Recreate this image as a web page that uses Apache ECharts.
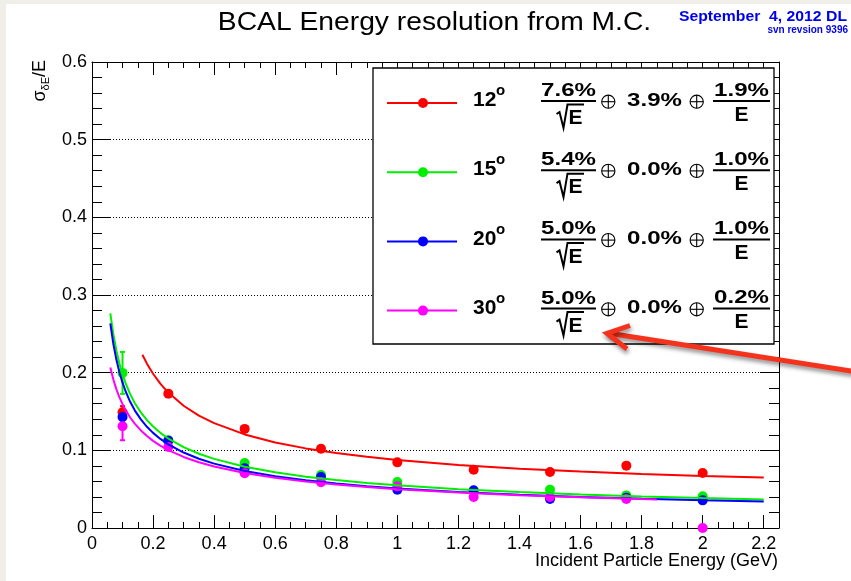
<!DOCTYPE html>
<html><head><meta charset="utf-8">
<script src="https://cdn.jsdelivr.net/npm/echarts@6/dist/echarts.min.js"></script>
<style>html,body{margin:0;padding:0;background:#fff;}#c{width:851px;height:581px;}</style>
</head><body><div id="c"></div><script>
// ---- data ----
const pointE = [0.1, 0.25, 0.5, 0.75, 1.0, 1.25, 1.5, 1.75, 2.0];
const res12 = [0.149, 0.173, 0.1276, 0.102, 0.0845, 0.0751, 0.0722, 0.0803, 0.0709];
const res15 = [0.1997, 0.113, 0.0838, 0.0683, 0.0593, 0.047, 0.0494, 0.042, 0.0408];
const res20 = [0.143, 0.1125, 0.077, 0.0657, 0.0494, 0.0485, 0.0374, 0.039, 0.0356];
const res30 = [0.131, 0.1044, 0.0706, 0.059, 0.0536, 0.040, 0.040, 0.0374, 0.0];
const err12 = [0.008, 0.003, 0.003, 0.002, 0.002, 0.002, 0.002, 0.002, 0.002];
const err15 = [0.027, 0.003, 0.003, 0.002, 0.002, 0.002, 0.002, 0.002, 0.002];
const err20 = [0.007, 0.003, 0.003, 0.002, 0.002, 0.002, 0.002, 0.002, 0.002];
const err30 = [0.018, 0.003, 0.003, 0.002, 0.002, 0.002, 0.002, 0.002, 0.002];

// fitted curves, sampled along the drawn lines
const fit12E = [0.165, 0.18, 0.2, 0.225, 0.25, 0.3, 0.35, 0.4, 0.5, 0.6, 0.7, 0.8, 0.9, 1.0, 1.2, 1.4, 1.6, 1.8, 2.0, 2.2];
const fit12 = [0.2231, 0.2116, 0.1986, 0.1853, 0.1744, 0.1574, 0.1448, 0.1350, 0.1205, 0.1102, 0.1025, 0.0965, 0.0916, 0.0875, 0.0812, 0.0764, 0.0726, 0.0696, 0.0671, 0.0650];
const fitE = [0.06, 0.07, 0.08, 0.09, 0.1, 0.11, 0.125, 0.14, 0.16, 0.18, 0.2, 0.225, 0.25, 0.3, 0.35, 0.4, 0.5, 0.6, 0.7, 0.8, 0.9, 1.0, 1.2, 1.4, 1.6, 1.8, 2.0, 2.2];
const fit15 = [0.2764, 0.2491, 0.2282, 0.2115, 0.1979, 0.1865, 0.1724, 0.1610, 0.1488, 0.1389, 0.1307, 0.1222, 0.1152, 0.1041, 0.0956, 0.0890, 0.0789, 0.0717, 0.0661, 0.0617, 0.0580, 0.0549, 0.0500, 0.0462, 0.0432, 0.0406, 0.0385, 0.0367];
const fit20 = [0.2635, 0.2369, 0.2165, 0.2003, 0.1871, 0.1761, 0.1625, 0.1515, 0.1398, 0.1303, 0.1225, 0.1144, 0.1077, 0.0972, 0.0892, 0.0829, 0.0735, 0.0667, 0.0615, 0.0573, 0.0539, 0.0510, 0.0464, 0.0429, 0.0400, 0.0377, 0.0357, 0.0340];
const fit30E = [0.06, 0.07, 0.08, 0.09, 0.1, 0.11, 0.125, 0.14, 0.16, 0.18, 0.2, 0.225, 0.25, 0.3, 0.35, 0.4, 0.5, 0.6, 0.7, 0.8, 0.9, 1.0, 1.2, 1.4, 1.6, 1.8, 1.85];
const fit30 = [0.2068, 0.1911, 0.1785, 0.1681, 0.1594, 0.1519, 0.1423, 0.1344, 0.1256, 0.1184, 0.1122, 0.1058, 0.1003, 0.0915, 0.0847, 0.0792, 0.0708, 0.0646, 0.0598, 0.0560, 0.0528, 0.0500, 0.0457, 0.0423, 0.0396, 0.0373, 0.0368];

const angleLabels = ['12', '15', '20', '30'];
const stochTerm = ['7.6%', '5.4%', '5.0%', '5.0%'];
const constTerm = ['3.9%', '0.0%', '0.0%', '0.0%'];
const noiseTerm = ['1.9%', '1.0%', '1.0%', '0.2%'];
const colors = ['#ff0000', '#00ee00', '#0000ff', '#ff00ff'];

const titleText = 'BCAL Energy resolution from M.C.';
const dateText = 'September  4, 2012 DL';
const svnText = 'svn revsion 9396';
const xTitle = 'Incident Particle Energy (GeV)';

// ---- build ----
const FONT = "'Liberation Sans', Arial, Helvetica, sans-serif";
function txt(x, y, text, size, o) {
  o = o || {};
  return {
    type: 'text', x: x, y: y, z: o.z || 101,
    scaleX: o.scaleX || 1, rotation: o.rotation || 0,
    style: {
      text: text, x: 0, y: 0,
      fontSize: size, fontFamily: o.family || FONT, fontWeight: o.weight || 'normal',
      fill: o.fill || '#000',
      align: o.align || 'center', textAlign: o.align || 'center',
      verticalAlign: o.valign || 'middle', textVerticalAlign: o.valign || 'middle',
      rich: o.rich
    }
  };
}
function oplus(cx, cy) {
  const r = 6.6;
  return {
    type: 'group', z: 101, children: [
      { type: 'circle', z: 101, shape: { cx: cx, cy: cy, r: r }, style: { stroke: '#000', lineWidth: 1.1, fill: null } },
      { type: 'line', z: 101, shape: { x1: cx - r, y1: cy, x2: cx + r, y2: cy }, style: { stroke: '#000', lineWidth: 1.1 } },
      { type: 'line', z: 101, shape: { x1: cx, y1: cy - r, x2: cx, y2: cy + r }, style: { stroke: '#000', lineWidth: 1.1 } }
    ]
  };
}

const graphics = [
  { type: 'rect', z: 0, shape: { x: 0, y: 0, width: 6, height: 581 }, style: { fill: '#efeee8' } },
  { type: 'rect', z: 0, shape: { x: 0, y: 0, width: 851, height: 4 }, style: { fill: '#efeee8' } },
  txt(434.5, 23, titleText, 25, { scaleX: 1.13 }),
  txt(847, 17, dateText, 15, { align: 'right', weight: 'bold', fill: '#0000ee', scaleX: 1.05 }),
  txt(848, 30, svnText, 10, { align: 'right', weight: 'bold', fill: '#0000ee' }),
  txt(40, 60, '{a|σ}{b|δE}{a|/E}', 18, {
    align: 'right', rotation: Math.PI / 2,
    rich: { a: { fontSize: 18, fontFamily: FONT, lineHeight: 22, verticalAlign: 'middle' },
            b: { fontSize: 11, fontFamily: FONT, lineHeight: 22, verticalAlign: 'bottom' } }
  }),
  txt(778, 561, xTitle, 18, { align: 'right' }),
  { type: 'rect', z: 100, shape: { x: 373, y: 68, width: 401, height: 276 }, style: { fill: '#fff', stroke: '#000', lineWidth: 1.3 } }
];
angleLabels.forEach(function (ang, i) {
  const dy = i * 69.2;
  const col = colors[i];
  graphics.push(
    { type: 'line', z: 101, shape: { x1: 387, y1: 103 + dy, x2: 457, y2: 103 + dy }, style: { stroke: col, lineWidth: 2 } },
    { type: 'circle', z: 102, shape: { cx: 423, cy: 103 + dy, r: 5 }, style: { fill: col } },
    txt(473, 100.5 + dy, ang, 21, { align: 'left', weight: 'bold' }),
    txt(496, 91 + dy, 'o', 15, { align: 'left', weight: 'bold' }),
    txt(568.5, 91 + dy, stochTerm[i], 18.5, { scaleX: 1.3, weight: 'bold' }),
    { type: 'rect', z: 101, shape: { x: 541, y: 100 + dy, width: 55, height: 2 }, style: { fill: '#000' } },
    { type: 'polyline', z: 101, shape: { points: [[556.5, 114 + dy], [559.5, 112 + dy], [563.5, 128 + dy], [567.5, 104.5 + dy], [584, 104.5 + dy]] }, style: { stroke: '#000', lineWidth: 2, fill: null } },
    txt(575.5, 118.5 + dy, 'E', 21, { weight: 'bold' }),
    oplus(608.3, 101.7 + dy),
    txt(654.5, 100.5 + dy, constTerm[i], 18.5, { scaleX: 1.3, weight: 'bold' }),
    oplus(696.7, 101.7 + dy),
    txt(741.5, 90.5 + dy, noiseTerm[i], 18.5, { scaleX: 1.3, weight: 'bold' }),
    { type: 'rect', z: 101, shape: { x: 713, y: 100 + dy, width: 57, height: 2 }, style: { fill: '#000' } },
    txt(741.5, 115 + dy, 'E', 21, { weight: 'bold' })
  );
});
const arrowStyle = { stroke: '#f5331c', lineWidth: 5, fill: null, lineJoin: 'miter', shadowBlur: 4, shadowOffsetX: 1, shadowOffsetY: 3, shadowColor: 'rgba(0,0,0,0.45)' };
graphics.push(
  { type: 'polyline', z: 110, shape: { points: [[853, 371.3], [609, 333.3]] }, style: arrowStyle },
  { type: 'polyline', z: 110, shape: { points: [[630, 325.5], [607, 333.3], [627, 349]] }, style: arrowStyle }
);

const fits = [[fit12E, fit12], [fitE, fit15], [fitE, fit20], [fit30E, fit30]];
const pts = [res12, res15, res20, res30];
const errs = [err12, err15, err20, err30];
const series = [];
for (let i = 0; i < 4; i++) {
  const col = colors[i];
  series.push({
    type: 'line', xAxisIndex: 0, yAxisIndex: 0, silent: true,
    data: fits[i][0].map(function (e, j) { return [e, fits[i][1][j]]; }),
    showSymbol: false, smooth: false,
    lineStyle: { color: col, width: 2 }, itemStyle: { color: col }
  });
  series.push({
    type: 'custom', xAxisIndex: 0, yAxisIndex: 0, silent: true, clip: false,
    encode: { x: 0, y: 1 },
    data: pointE.map(function (e, j) { return [e, pts[i][j], errs[i][j]]; }),
    renderItem: function (params, api) {
      const x = api.value(0), y = api.value(1), er = api.value(2);
      const t = api.coord([x, y + er]), b = api.coord([x, y - er]);
      const st = { stroke: col, lineWidth: 2 };
      return { type: 'group', children: [
        { type: 'line', shape: { x1: t[0], y1: t[1], x2: b[0], y2: b[1] }, style: st },
        { type: 'line', shape: { x1: t[0] - 2.5, y1: t[1], x2: t[0] + 2.5, y2: t[1] }, style: st },
        { type: 'line', shape: { x1: b[0] - 2.5, y1: b[1], x2: b[0] + 2.5, y2: b[1] }, style: st }
      ] };
    }
  });
  series.push({
    type: 'scatter', xAxisIndex: 0, yAxisIndex: 0, silent: true, clip: false,
    data: pointE.map(function (e, j) { return [e, pts[i][j]]; }),
    symbol: 'circle', symbolSize: 10, itemStyle: { color: col, opacity: 1 }
  });
}

const blk = { color: '#000', width: 1 };
function xAx(pos, interval, len, labels, line) {
  return {
    type: 'value', min: 0, max: 2.25, interval: interval, position: pos,
    axisLine: { show: line, onZero: false, lineStyle: blk },
    axisTick: { show: true, inside: true, length: len, lineStyle: blk },
    minorTick: { show: false }, splitLine: { show: false },
    axisLabel: labels ? {
      show: true, margin: 7, fontSize: 18, fontFamily: FONT, color: '#000',
      formatter: function (v) { return Math.abs(v * 5 - Math.round(v * 5)) < 1e-6 ? String(+v.toFixed(1)) : ''; }
    } : { show: false }
  };
}
function yAx(pos, labels) {
  return {
    type: 'value', min: 0, max: 0.6, interval: 0.1, position: pos,
    axisLine: { show: true, onZero: false, lineStyle: blk },
    axisTick: { show: true, inside: true, length: 19, lineStyle: blk },
    minorTick: { show: true, splitNumber: 5, length: 10, lineStyle: blk },
    splitLine: labels ? { show: true, lineStyle: { color: '#000', width: 1, type: [1, 2] } } : { show: false },
    axisLabel: labels ? { show: true, margin: 5, fontSize: 18, fontFamily: FONT, color: '#000',
      formatter: function (v) { return String(+v.toFixed(1)); } } : { show: false }
  };
}

const chart = echarts.init(document.getElementById('c'), null, { renderer: 'canvas' });
chart.setOption({
  backgroundColor: '#fff',
  animation: false,
  grid: { left: 92, right: 72, top: 62, bottom: 53, show: false, containLabel: false, outerBoundsMode: 'none' },
  xAxis: [xAx('bottom', 0.05, 6, false, true), xAx('bottom', 0.2, 13, true, false),
          xAx('top', 0.05, 6, false, true), xAx('top', 0.2, 13, false, false)],
  yAxis: [yAx('left', true), yAx('right', false)],
  series: series,
  graphic: { elements: graphics }
});
</script></body></html>
